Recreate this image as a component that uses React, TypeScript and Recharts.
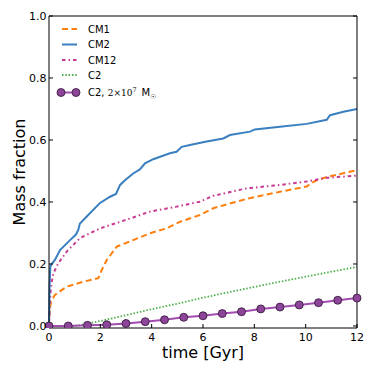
import { Line, LineChart, XAxis, YAxis } from 'recharts'

// time [Gyr] and mass fraction
const cm1Time = [0, 0.03, 0.08, 0.23, 0.69, 1.34, 1.92, 2.05, 2.25, 2.64, 3.28, 3.93, 4.58, 5.1, 5.88, 6.4, 7.7, 9.0, 10.04, 10.2, 10.43, 10.8, 12]
const cm1Mass = [0, 0.05, 0.08, 0.1, 0.127, 0.143, 0.154, 0.18, 0.213, 0.256, 0.277, 0.299, 0.315, 0.336, 0.358, 0.38, 0.41, 0.433, 0.45, 0.46, 0.47, 0.48, 0.503]

const cm2Time = [0, 0.02, 0.05, 0.1, 0.23, 0.43, 0.82, 1.05, 1.14, 1.2, 1.47, 1.99, 2.38, 2.61, 2.77, 2.96, 3.28, 3.54, 3.74, 4.06, 4.71, 4.97, 5.17, 5.49, 6.14, 6.79, 7.05, 7.83, 8.02, 9.0, 10.04, 10.82, 10.95, 11.47, 12]
const cm2Mass = [0, 0.12, 0.19, 0.2, 0.213, 0.245, 0.277, 0.295, 0.31, 0.33, 0.353, 0.397, 0.417, 0.426, 0.455, 0.47, 0.492, 0.505, 0.525, 0.538, 0.557, 0.562, 0.578, 0.584, 0.595, 0.605, 0.616, 0.627, 0.634, 0.643, 0.652, 0.665, 0.68, 0.691, 0.7]

const cm12Time = [0, 0.05, 0.1, 0.17, 0.36, 0.69, 1.2, 1.99, 2.77, 3.28, 3.93, 4.97, 5.88, 6.4, 7.7, 9.0, 10.04, 10.82, 12]
const cm12Mass = [0, 0.1, 0.14, 0.17, 0.202, 0.24, 0.283, 0.315, 0.336, 0.35, 0.369, 0.385, 0.401, 0.42, 0.444, 0.455, 0.466, 0.478, 0.485]

const c2Time = [0, 0.5, 1.1, 2, 3, 4, 5, 6, 7, 8, 9, 10, 11, 12]
const c2Mass = [0, 0, 0.001, 0.016, 0.035, 0.054, 0.072, 0.091, 0.109, 0.126, 0.143, 0.159, 0.175, 0.191]

const c2LowTime = [0, 0.75, 1.5, 2.25, 3.0, 3.75, 4.5, 5.25, 6.0, 6.75, 7.5, 8.25, 9.0, 9.75, 10.5, 11.25, 12]
const c2LowMass = [0, 0.0, 0.002, 0.004, 0.008, 0.014, 0.02, 0.028, 0.033, 0.04, 0.046, 0.055, 0.061, 0.068, 0.075, 0.083, 0.09]

const xTicks = [0, 2, 4, 6, 8, 10, 12]
const yTicks = [0, 0.2, 0.4, 0.6, 0.8, 1.0]

const toPoints = (t: number[], m: number[]) => t.map((x, i) => ({ t: x, m: m[i] }))

const font = 'DejaVu Sans'
const orange = '#ff7f0e'
const blue = '#3a7fc0'
const pink = '#c73a93'
const green = '#4daf4a'
const purple = '#a24bb0'
const purpleDot = '#8d4599'

const legendRows = [
  { label: 'CM1', color: orange, dash: '6 3.5', width: 2 },
  { label: 'CM2', color: blue, dash: undefined, width: 2 },
  { label: 'CM12', color: pink, dash: '3.5 3 1.5 3', width: 2 },
  { label: 'C2', color: green, dash: '1.5 1.8', width: 1.8 },
]
const legendY = [29, 44.5, 60, 75]

export default function App() {
  const yDomain: [number, number] = [-0.0065, 1]
  return (
    <div style={{ position: 'absolute', left: 0, top: 0, width: 374, height: 374, background: '#fff' }}>
      <LineChart width={374} height={374} margin={{ top: 15, right: 16, bottom: 0, left: 0 }}>
        <XAxis
          dataKey="t"
          type="number"
          domain={[0, 12]}
          ticks={xTicks}
          interval={0}
          height={46}
          stroke="#000"
          tickSize={-4}
          tickMargin={9}
          tick={{ fill: '#000', fontSize: 11, fontFamily: font }}
        />
        <XAxis
          xAxisId="top"
          orientation="top"
          dataKey="t"
          type="number"
          domain={[0, 12]}
          ticks={xTicks}
          interval={0}
          height={1}
          stroke="#000"
          tickSize={-4}
          tickFormatter={() => ''}
        />
        <YAxis
          type="number"
          domain={yDomain}
          ticks={yTicks}
          interval={0}
          width={49}
          stroke="#000"
          tickSize={-4}
          tickMargin={6.5}
          allowDataOverflow
          tickFormatter={(v: number) => v.toFixed(1)}
          tick={{ fill: '#000', fontSize: 11, fontFamily: font }}
        />
        <YAxis
          yAxisId="right"
          orientation="right"
          type="number"
          domain={yDomain}
          ticks={yTicks}
          interval={0}
          width={1}
          stroke="#000"
          tickSize={-4}
          allowDataOverflow
          tickFormatter={() => ''}
        />
        <Line data={toPoints(c2Time, c2Mass)} dataKey="m" type="linear" stroke={green} strokeWidth={1.8} strokeDasharray="1.5 1.8" dot={false} isAnimationActive={false} />
        <Line data={toPoints(cm1Time, cm1Mass)} dataKey="m" type="linear" stroke={orange} strokeWidth={2} strokeDasharray="6 3.5" dot={false} isAnimationActive={false} />
        <Line data={toPoints(cm12Time, cm12Mass)} dataKey="m" type="linear" stroke={pink} strokeWidth={2} strokeDasharray="3.5 3 1.5 3" dot={false} isAnimationActive={false} />
        <Line data={toPoints(cm2Time, cm2Mass)} dataKey="m" type="linear" stroke={blue} strokeWidth={2} dot={false} isAnimationActive={false} />
        <Line
          data={toPoints(c2LowTime, c2LowMass)}
          dataKey="m"
          type="linear"
          stroke={purple}
          strokeWidth={2}
          dot={{ r: 4, fill: purpleDot, stroke: '#2e1433', strokeWidth: 0.8 }}
          isAnimationActive={false}
        />
      </LineChart>
      <svg width={374} height={374} style={{ position: 'absolute', left: 0, top: 0, pointerEvents: 'none' }}>
        <text x={19} y={172} transform="rotate(-90 19 172)" textAnchor="middle" dominantBaseline="central" fontFamily={font} fontSize={16} fill="#000">
          Mass fraction
        </text>
        <text x={203} y={358} textAnchor="middle" fontFamily={font} fontSize={16} fill="#000">
          time [Gyr]
        </text>
        {legendRows.map((row, i) => (
          <g key={row.label}>
            <line x1={62} x2={77} y1={legendY[i]} y2={legendY[i]} stroke={row.color} strokeWidth={row.width} strokeDasharray={row.dash} />
            <text x={88} y={legendY[i]} dominantBaseline="central" fontFamily={font} fontSize={10} fill="#000">
              {row.label}
            </text>
          </g>
        ))}
        <g>
          <line x1={61} x2={76} y1={92.5} y2={92.5} stroke={purple} strokeWidth={2} />
          <circle cx={61} cy={92.5} r={4} fill={purpleDot} stroke="#2e1433" strokeWidth={0.8} />
          <circle cx={76} cy={92.5} r={4} fill={purpleDot} stroke="#2e1433" strokeWidth={0.8} />
          <text x={88} y={96} fontFamily={font} fontSize={10} fill="#000">
            C2,{' '}
            <tspan fontFamily="DejaVu Serif" fontSize={9}>2×10</tspan>
            <tspan fontFamily="DejaVu Serif" fontSize={6.5} dy={-4}>7</tspan>
            <tspan dx={5} dy={4}>M</tspan>
            <tspan fontSize={6.5} dy={2.5}>☉</tspan>
          </text>
        </g>
      </svg>
    </div>
  )
}
